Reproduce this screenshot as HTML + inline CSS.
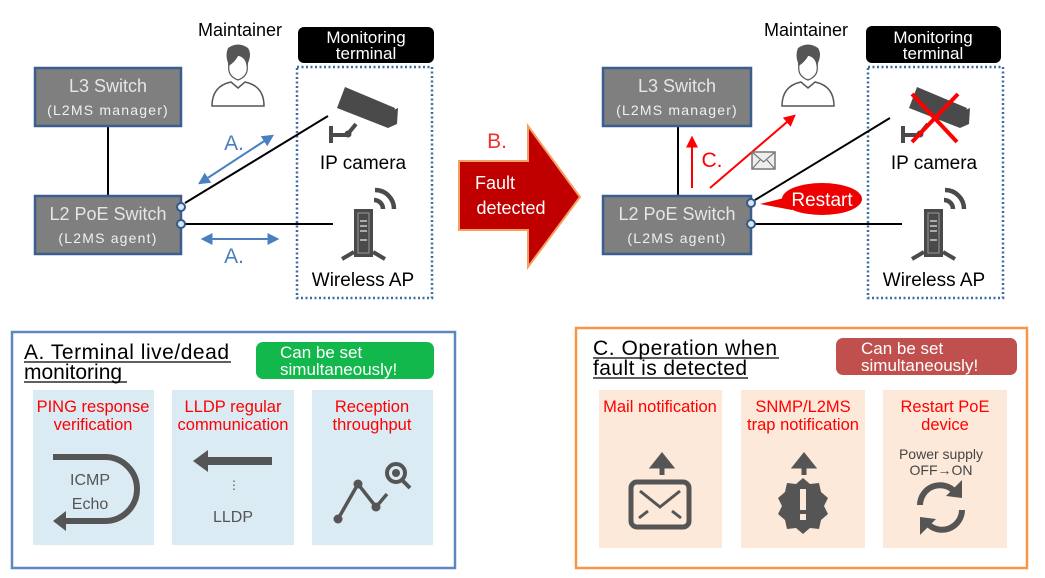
<!DOCTYPE html>
<html><head><meta charset="utf-8"><style>
html,body{margin:0;padding:0;background:#fff;}
svg{display:block;font-family:"Liberation Sans",sans-serif;}
</style></head><body>
<svg width="1045" height="578" viewBox="0 0 1045 578" xmlns="http://www.w3.org/2000/svg">
<defs>
<marker id="ab" viewBox="0 0 10 10" refX="8" refY="5" markerWidth="6" markerHeight="6" orient="auto-start-reverse"><path d="M0,0 L10,5 L0,10 z" fill="#4a7fc0"/></marker>
<marker id="ar" viewBox="0 0 10 10" refX="8" refY="5" markerWidth="6" markerHeight="6" orient="auto"><path d="M0,0 L10,5 L0,10 z" fill="#f00"/></marker>
<g id="cam">
<path d="M345,87 L395,108 L388,128 L337,108 Z" fill="#4a4a4a"/>
<path d="M389,112 L398,108 L397,124 L388,128 Z" fill="#4a4a4a"/>
<path d="M331,126 L331,143 M331,135 L347,135 L356,124" stroke="#4a4a4a" stroke-width="4" fill="none"/>
<circle cx="348" cy="134" r="3.5" fill="#4a4a4a"/>
</g>
<g id="ap">
<rect x="354" y="209" width="19" height="48" fill="#4a4a4a"/>
<rect x="358" y="213" width="11" height="40" fill="none" stroke="#999" stroke-width="1"/>
<path d="M360,221 h7 M360,226 h7 M360,231 h7 M360,240 h7" stroke="#ccc" stroke-width="1.5"/>
<path d="M342,259 L354,252 M385,259 L373,252" stroke="#4a4a4a" stroke-width="4"/>
<path d="M374,200 a9,9 0 0 1 9,9 M375,190 a19,19 0 0 1 19,19" stroke="#4a4a4a" stroke-width="4.5" fill="none"/>
</g>
<g id="person">
<path d="M228,48 q10,-7 20,0 q4,6 0,15 q0,11 -10,15 q-10,-4 -10,-15 q-3,-8 0,-15z" fill="#555"/>
<path d="M229,65 q-2,11 9,15 q11,-4 9,-15 q-1,-8 -9,-10 q-3,6 -9,10z" fill="#fff" stroke="#555" stroke-width="1.2"/>
<path d="M231,82 q-19,4 -19,24 h52 q0,-20 -19,-24 l-7,6z" fill="#fff" stroke="#555" stroke-width="1.5"/>
</g>
</defs>

<!-- LEFT DIAGRAM -->
<text x="240" y="36" font-size="18" text-anchor="middle">Maintainer</text>
<use href="#person"/>
<rect x="298" y="27" width="136" height="36" rx="6" fill="#000"/>
<text x="366" y="43" font-size="17" fill="#fff" text-anchor="middle">Monitoring</text>
<text x="366" y="59" font-size="17" fill="#fff" text-anchor="middle">terminal</text>
<rect x="297" y="67" width="135" height="231" fill="none" stroke="#3f6c9e" stroke-width="2.5" stroke-dasharray="2,2.5"/>
<line x1="108" y1="126" x2="108" y2="195" stroke="#000" stroke-width="2"/>
<rect x="35" y="68" width="146" height="58" fill="#7f7f7f" stroke="#3a5f8f" stroke-width="2.5"/>
<text x="108" y="92" font-size="18" fill="#e6e6e6" text-anchor="middle">L3 Switch</text>
<text x="108" y="115" font-size="14" fill="#f0f0f0" text-anchor="middle" letter-spacing="1.2">(L2MS manager)</text>
<rect x="35" y="196" width="146" height="58" fill="#7f7f7f" stroke="#3a5f8f" stroke-width="2.5"/>
<text x="108" y="220" font-size="18" fill="#e6e6e6" text-anchor="middle">L2 PoE Switch</text>
<text x="108" y="243" font-size="14" fill="#f0f0f0" text-anchor="middle" letter-spacing="1.2">(L2MS agent)</text>
<line x1="185" y1="203" x2="328" y2="116" stroke="#000" stroke-width="2"/>
<line x1="185" y1="224" x2="333" y2="224" stroke="#000" stroke-width="2"/>
<circle cx="181" cy="207" r="4" fill="#dde6f0" stroke="#2f5a8a" stroke-width="2"/>
<circle cx="181" cy="224" r="4" fill="#dde6f0" stroke="#2f5a8a" stroke-width="2"/>
<line x1="200" y1="183" x2="272" y2="136" stroke="#4a7fc0" stroke-width="2" marker-start="url(#ab)" marker-end="url(#ab)"/>
<text x="234" y="150" font-size="21" fill="#4a7fc0" text-anchor="middle">A.</text>
<line x1="203" y1="239" x2="277" y2="239" stroke="#4a7fc0" stroke-width="2" marker-start="url(#ab)" marker-end="url(#ab)"/>
<text x="234" y="263" font-size="21" fill="#4a7fc0" text-anchor="middle">A.</text>
<use href="#cam"/>
<text x="363" y="169" font-size="19" text-anchor="middle">IP camera</text>
<use href="#ap"/>
<text x="363" y="286" font-size="19" text-anchor="middle">Wireless AP</text>

<!-- B arrow -->
<text x="497" y="148" font-size="21" fill="#f03030" text-anchor="middle">B.</text>
<path d="M459,161 L528,161 L528,126 L580,197 L528,267 L528,230 L459,230 Z" fill="#c00000" stroke="#f5a060" stroke-width="2"/>
<text x="495" y="189" font-size="18" fill="#fff" text-anchor="middle">Fault</text>
<text x="511" y="214" font-size="18" fill="#fff" text-anchor="middle">detected</text>

<!-- RIGHT DIAGRAM -->
<text x="806" y="36" font-size="18" text-anchor="middle">Maintainer</text>
<use href="#person" transform="translate(570,0)"/>
<rect x="866" y="26" width="135" height="37" rx="6" fill="#000"/>
<text x="933" y="43" font-size="17" fill="#fff" text-anchor="middle">Monitoring</text>
<text x="933" y="59" font-size="17" fill="#fff" text-anchor="middle">terminal</text>
<rect x="868" y="67" width="135" height="231" fill="none" stroke="#3f6c9e" stroke-width="2.5" stroke-dasharray="2,2.5"/>
<line x1="678" y1="126" x2="678" y2="195" stroke="#000" stroke-width="2"/>
<rect x="603" y="68" width="148" height="58" fill="#7f7f7f" stroke="#3a5f8f" stroke-width="2.5"/>
<text x="677" y="92" font-size="18" fill="#e6e6e6" text-anchor="middle">L3 Switch</text>
<text x="677" y="115" font-size="14" fill="#f0f0f0" text-anchor="middle" letter-spacing="1.2">(L2MS manager)</text>
<rect x="603" y="196" width="148" height="58" fill="#7f7f7f" stroke="#3a5f8f" stroke-width="2.5"/>
<text x="677" y="220" font-size="18" fill="#e6e6e6" text-anchor="middle">L2 PoE Switch</text>
<text x="677" y="243" font-size="14" fill="#f0f0f0" text-anchor="middle" letter-spacing="1.2">(L2MS agent)</text>
<line x1="692" y1="188" x2="692" y2="138" stroke="#f00" stroke-width="2" marker-end="url(#ar)"/>
<text x="712" y="167" font-size="21" fill="#f00" text-anchor="middle">C.</text>
<line x1="710" y1="188" x2="794" y2="116" stroke="#f00" stroke-width="2" marker-end="url(#ar)"/>
<rect x="752" y="152" width="23" height="17" fill="#eee" stroke="#777" stroke-width="1.5"/>
<path d="M752,152 L763.5,162 L775,152 M752,169 L760,160 M775,169 L767,160" stroke="#777" stroke-width="1.2" fill="none"/>
<line x1="755" y1="200" x2="890" y2="118" stroke="#000" stroke-width="2"/>
<line x1="755" y1="224" x2="902" y2="224" stroke="#000" stroke-width="2"/>
<circle cx="751" cy="203" r="4" fill="#dde6f0" stroke="#2f5a8a" stroke-width="2"/>
<circle cx="751" cy="224" r="4" fill="#dde6f0" stroke="#2f5a8a" stroke-width="2"/>
<path d="M760,204 L792,196 L792,210 Z" fill="#e00"/>
<ellipse cx="822" cy="199" rx="40" ry="16" fill="#e00"/>
<text x="822" y="206" font-size="19" fill="#fff" text-anchor="middle">Restart</text>
<use href="#cam" transform="translate(572,0)"/>
<path d="M912,94 L957,142 M958,94 L912,142" stroke="#f00" stroke-width="4"/>
<text x="934" y="169" font-size="19" text-anchor="middle">IP camera</text>
<use href="#ap" transform="translate(570,0)"/>
<text x="934" y="286" font-size="19" text-anchor="middle">Wireless AP</text>

<!-- BOTTOM LEFT -->
<rect x="12" y="332" width="443" height="236" fill="#fff" stroke="#5b88c0" stroke-width="2.5"/>
<text x="24" y="359" font-size="21" textLength="205">A. Terminal live/dead</text>
<line x1="24" y1="362" x2="231" y2="362" stroke="#000" stroke-width="1.2"/>
<text x="24" y="379" font-size="21">monitoring</text>
<line x1="24" y1="382" x2="127" y2="382" stroke="#000" stroke-width="1.2"/>
<rect x="256" y="342" width="178" height="37" rx="7" fill="#12b84c"/>
<text x="280" y="358" font-size="17" fill="#fff">Can be set</text>
<text x="280" y="375" font-size="17" fill="#fff">simultaneously!</text>
<rect x="33" y="390" width="121" height="155" fill="#daebf3"/>
<rect x="172" y="390" width="122" height="155" fill="#daebf3"/>
<rect x="312" y="390" width="121" height="155" fill="#daebf3"/>
<g font-size="16.5" fill="#f00" text-anchor="middle">
<text x="93" y="412">PING response</text><text x="93" y="430">verification</text>
<text x="233" y="412">LLDP regular</text><text x="233" y="430">communication</text>
<text x="372" y="412">Reception</text><text x="372" y="430">throughput</text>
</g>
<path d="M53,457 L105,457 a32,32 0 0 1 0,64 L64,521" stroke="#555" stroke-width="6" fill="none"/>
<path d="M53,521 L66,511 L66,531 Z" fill="#555"/>
<text x="90" y="485" font-size="16" fill="#555" text-anchor="middle">ICMP</text>
<text x="90" y="509" font-size="16" fill="#555" text-anchor="middle">Echo</text>
<line x1="272" y1="461" x2="205" y2="461" stroke="#555" stroke-width="8"/>
<path d="M193,461 L208,450 L208,472 Z" fill="#555"/>
<text x="234" y="489" font-size="12" fill="#555" text-anchor="middle">⋮</text>
<text x="233" y="522" font-size="16" fill="#555" text-anchor="middle">LLDP</text>
<path d="M338,519 L358,484 L376,507 L387,494" stroke="#555" stroke-width="3.5" fill="none"/>
<circle cx="338" cy="519" r="4.5" fill="#555"/><circle cx="358" cy="484" r="4.5" fill="#555"/><circle cx="376" cy="507" r="4.5" fill="#555"/>
<circle cx="396" cy="473" r="9" fill="none" stroke="#555" stroke-width="4"/><circle cx="396" cy="473" r="4" fill="#555"/>
<line x1="403" y1="481" x2="410" y2="488" stroke="#555" stroke-width="4"/>

<!-- BOTTOM RIGHT -->
<rect x="576" y="328" width="451" height="240" fill="#fff" stroke="#f79646" stroke-width="2.5"/>
<text x="593" y="355" font-size="21" textLength="184">C. Operation when</text>
<line x1="593" y1="358" x2="779" y2="358" stroke="#000" stroke-width="1.2"/>
<text x="593" y="375" font-size="21" textLength="154">fault is detected</text>
<line x1="593" y1="378" x2="748" y2="378" stroke="#000" stroke-width="1.2"/>
<rect x="836" y="338" width="181" height="37" rx="7" fill="#c0504d"/>
<text x="861" y="354" font-size="17" fill="#fff">Can be set</text>
<text x="861" y="371" font-size="17" fill="#fff">simultaneously!</text>
<rect x="599" y="390" width="123" height="158" fill="#fde9d9"/>
<rect x="741" y="390" width="124" height="158" fill="#fde9d9"/>
<rect x="883" y="390" width="124" height="158" fill="#fde9d9"/>
<g font-size="16.5" fill="#f00" text-anchor="middle">
<text x="660" y="412">Mail notification</text>
<text x="803" y="412">SNMP/L2MS</text><text x="803" y="430">trap notification</text>
<text x="945" y="412">Restart PoE</text><text x="945" y="430">device</text>
</g>
<path d="M662,475 L662,460 M654,466 L662,456 L670,466 Z" stroke="#555" stroke-width="5" fill="#555"/>
<rect x="631" y="482" width="58" height="45" rx="6" fill="none" stroke="#555" stroke-width="5"/>
<path d="M640,491 L660,507 L680,491 M639,518 L648,511 M681,518 L672,511" stroke="#555" stroke-width="3" fill="none"/>
<path d="M804,475 L804,460 M796,466 L804,456 L812,466 Z" stroke="#555" stroke-width="5" fill="#555"/>
<polygon points="803,478 810,484 819,483 821,492 828,498 824,506 828,514 821,520 819,529 810,528 803,534 796,528 787,529 785,520 778,514 782,506 778,498 785,492 787,483 796,484" fill="#555"/>
<rect x="800" y="489" width="6" height="21" fill="#fde9d9"/><rect x="800" y="514" width="6" height="6" fill="#fde9d9"/>
<text x="941" y="459" font-size="14" fill="#444" text-anchor="middle">Power supply</text>
<text x="941" y="475" font-size="14" fill="#444" text-anchor="middle">OFF→ON</text>
<path d="M920,505 a20,20 0 0 1 35,-13" stroke="#555" stroke-width="6" fill="none"/>
<path d="M962,480 L962,498 L946,496 Z" fill="#555"/>
<path d="M962,510 a20,20 0 0 1 -35,13" stroke="#555" stroke-width="6" fill="none"/>
<path d="M920,535 L920,517 L936,519 Z" fill="#555"/>
</svg>
</body></html>
